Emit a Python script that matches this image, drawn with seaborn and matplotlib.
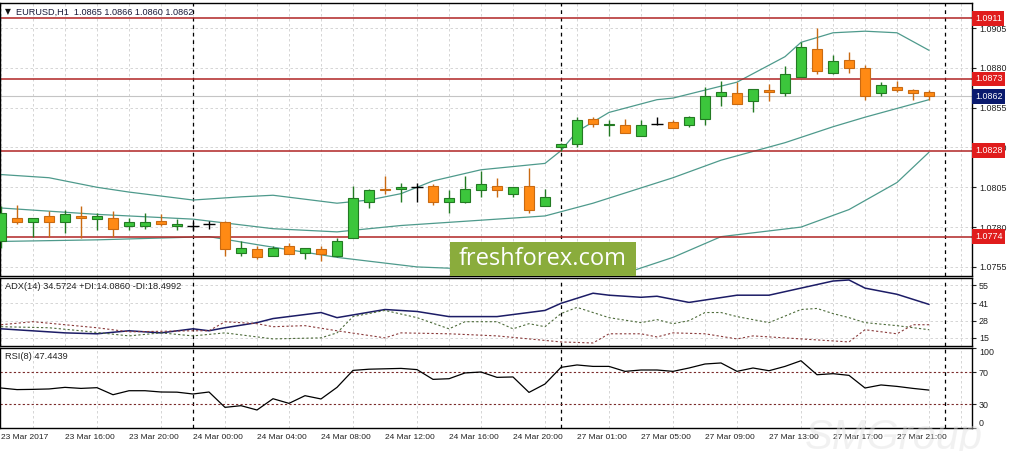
import numpy as np
import pandas as pd
import seaborn as sns
import matplotlib.pyplot as plt
from matplotlib.patches import Rectangle

# EURUSD H1, 23 Mar 12:00 .. 27 Mar 23:00 (bar index = position on chart)
opens = [1.0771, 1.0786, 1.0783, 1.0787, 1.0783, 1.0787, 1.0785, 1.0786, 1.0781, 1.0781,
         1.0784, 1.0781, 1.0781, 1.0782, 1.0783, 1.0764, 1.0766, 1.0762, 1.0768, 1.0764,
         1.0766, 1.0762, 1.0773, 1.0796, 1.0804, 1.0804, 1.0805, 1.0806, 1.0796, 1.0796,
         1.0803, 1.0806, 1.0801, 1.0806, 1.0793, 1.0830, 1.0832, 1.0848, 1.0844, 1.0844,
         1.0837, 1.0845, 1.0846, 1.0844, 1.0848, 1.0862, 1.0864, 1.0859, 1.0866, 1.0864,
         1.0874, 1.0892, 1.0877, 1.0885, 1.0880, 1.0864, 1.0868, 1.0866, 1.0865]
highs = [1.0793, 1.0794, 1.0786, 1.0790, 1.0791, 1.0793, 1.0789, 1.0790, 1.0786, 1.0789,
         1.0788, 1.0785, 1.0783, 1.0784, 1.0784, 1.0771, 1.0768, 1.0768, 1.0770, 1.0767,
         1.0768, 1.0773, 1.0806, 1.0804, 1.0812, 1.0808, 1.0808, 1.0807, 1.0803, 1.0812,
         1.0815, 1.0811, 1.0805, 1.0817, 1.0804, 1.0833, 1.0849, 1.0849, 1.0847, 1.0848,
         1.0847, 1.0849, 1.0847, 1.0850, 1.0868, 1.0872, 1.0871, 1.0867, 1.0870, 1.0881,
         1.0896, 1.0905, 1.0888, 1.0890, 1.0882, 1.0871, 1.0872, 1.0867, 1.0866]
lows = [1.0767, 1.0782, 1.0774, 1.0774, 1.0776, 1.0773, 1.0778, 1.0774, 1.0778, 1.0779,
        1.0781, 1.0778, 1.0778, 1.0779, 1.0762, 1.0762, 1.0760, 1.0762, 1.0763, 1.0760,
        1.0759, 1.0761, 1.0773, 1.0792, 1.0801, 1.0796, 1.0796, 1.0794, 1.0789, 1.0795,
        1.0799, 1.0799, 1.0799, 1.0789, 1.0793, 1.0828, 1.0830, 1.0843, 1.0837, 1.0839,
        1.0837, 1.0844, 1.0842, 1.0843, 1.0844, 1.0856, 1.0857, 1.0852, 1.0859, 1.0862,
        1.0874, 1.0876, 1.0876, 1.0877, 1.0860, 1.0862, 1.0865, 1.0860, 1.0860]
closes = [1.0789, 1.0783, 1.0786, 1.0783, 1.0788, 1.0786, 1.0787, 1.0779, 1.0783, 1.0783,
          1.0782, 1.0782, 1.0781, 1.0782, 1.0766, 1.0767, 1.0761, 1.0767, 1.0763, 1.0767,
          1.0763, 1.0771, 1.0798, 1.0803, 1.0803, 1.0805, 1.0805, 1.0796, 1.0798, 1.0804,
          1.0807, 1.0803, 1.0805, 1.0791, 1.0799, 1.0832, 1.0847, 1.0845, 1.0845, 1.0839,
          1.0844, 1.0845, 1.0842, 1.0849, 1.0862, 1.0865, 1.0857, 1.0867, 1.0865, 1.0876,
          1.0893, 1.0878, 1.0884, 1.0880, 1.0862, 1.0869, 1.0866, 1.0864, 1.0862]

# bollinger bands (read at a few bars)
bb_up_bars = [0, 3, 6, 8, 12, 15, 17, 21, 23, 25, 27, 30, 34, 35, 36, 38, 41, 42, 46, 49, 50, 52, 54, 56, 58]
bb_up = [1.0813, 1.0811, 1.0805, 1.0802, 1.0797, 1.0799, 1.0800, 1.0795, 1.0797, 1.0801, 1.0809, 1.0816, 1.0820,
         1.0828, 1.0840, 1.0852, 1.0860, 1.0861, 1.0871, 1.0887, 1.0896, 1.0902, 1.0903, 1.0902, 1.0891]
bb_mid_bars = [0, 6, 12, 17, 21, 25, 34, 37, 42, 45, 49, 52, 54, 58]
bb_mid = [1.0792, 1.0788, 1.0785, 1.0779, 1.0777, 1.0781, 1.0787, 1.0795, 1.0811, 1.0822, 1.0833, 1.0843, 1.0849, 1.0860]
bb_low_bars = [0, 6, 13, 16, 21, 26, 31, 39, 42, 45, 50, 53, 56, 58]
bb_low = [1.0771, 1.0772, 1.0774, 1.0769, 1.0761, 1.0755, 1.0753, 1.0751, 1.0761, 1.0774, 1.0780, 1.0791, 1.0808, 1.0827]

red_levels = [1.0911, 1.0873, 1.0828, 1.0774]
bid = 1.0862
price_ticks = [1.0755, 1.0780, 1.0805, 1.0830, 1.0855, 1.0880, 1.0905]

# ADX(14)
adx_bars = [0, 4, 6, 8, 10, 12, 13, 14, 16, 17, 20, 21, 24, 26, 28, 31, 34, 35, 37, 38, 40, 41, 43, 46, 48, 52, 53, 54, 56, 58]
adx = [21.7, 18.6, 17.9, 20.2, 18.6, 21.7, 20.2, 22.5, 26.4, 29.5, 34.1, 30.2, 36.4, 34.9, 31.0, 31.0, 35.7, 41.1,
       48.8, 47.3, 45.7, 46.5, 41.8, 47.3, 47.3, 58.1, 58.9, 52.7, 48.0, 40.3]
pdi_bars = [0, 3, 5, 8, 10, 12, 14, 17, 20, 21, 22, 24, 26, 28, 29, 31, 32, 33, 34, 35,
            36, 37, 38, 40, 41, 42, 43, 44, 45, 46, 48, 50, 51, 52, 53, 54, 56, 58]
pdi = [23.3, 22.5, 20.2, 16.3, 18.6, 16.3, 18.6, 14.0, 14.8, 18.6, 31.0, 35.7, 30.2, 21.7, 27.1, 27.1, 21.7, 25.6, 23.3, 33.3,
       38.0, 34.1, 30.2, 26.4, 28.7, 25.6, 27.9, 34.1, 34.1, 31.0, 26.4, 36.4, 37.2, 33.3, 30.2, 26.4, 24.1, 21.0]
mdi_bars = [0, 2, 6, 8, 12, 13, 14, 16, 17, 19, 21, 24, 25, 28, 31, 33, 35, 37, 38, 40,
            41, 42, 44, 46, 47, 50, 53, 54, 56, 57, 58]
mdi = [24.8, 27.1, 22.5, 19.4, 20.2, 20.2, 27.1, 25.6, 23.3, 24.1, 20.2, 14.8, 18.6, 17.9, 16.3, 14.0, 11.7, 10.9, 17.9, 17.9,
       15.5, 18.6, 17.9, 14.0, 16.3, 14.0, 11.7, 21.0, 17.9, 24.8, 24.8]
adx_ticks = [15, 28, 41, 55]

# RSI(8)
rsi = [50.0, 48.0, 48.3, 48.8, 50.8, 49.5, 50.4, 41.6, 46.6, 46.6,
       45.0, 44.8, 42.5, 45.0, 25.8, 27.9, 22.5, 36.6, 30.8, 40.4,
       36.3, 50.8, 72.0, 73.5, 74.0, 74.5, 73.0, 60.8, 61.6, 68.8,
       70.0, 63.3, 63.8, 44.5, 55.0, 75.8, 78.8, 77.0, 77.0, 70.8,
       72.5, 72.5, 70.8, 75.0, 80.0, 81.3, 70.8, 75.0, 71.6, 77.0,
       84.1, 66.6, 67.9, 65.8, 50.0, 53.8, 52.0, 49.5, 47.4]

time_bars = [0, 4, 8, 12, 16, 20, 24, 28, 32, 36, 40, 44, 48, 52, 56]
time_labels = ["23 Mar 2017", "23 Mar 16:00", "23 Mar 20:00", "24 Mar 00:00", "24 Mar 04:00",
               "24 Mar 08:00", "24 Mar 12:00", "24 Mar 16:00", "24 Mar 20:00", "27 Mar 01:00",
               "27 Mar 05:00", "27 Mar 09:00", "27 Mar 13:00", "27 Mar 17:00", "27 Mar 21:00"]
day_breaks = [12, 35, 59]

sns.set_style("white")
plt.rcParams["font.family"] = ["Liberation Sans", "DejaVu Sans"]

W, H = 1013, 451
fig = plt.figure(figsize=(W / 100, H / 100), dpi=100)


def panel(top, bottom):
    return fig.add_axes([0.0, 1 - bottom / H, 972 / W, (bottom - top) / H])


ax = panel(3, 276)
ax_adx = panel(278, 346)
ax_rsi = panel(348, 428)

grid_kw = dict(color="#cfcfcf", ls=(0, (3, 3)), lw=0.6)
for a in (ax, ax_adx, ax_rsi):
    a.set_xlim(-0.0625, 60.6875)
    a.set_xticks(np.arange(0, 61, 2), minor=True)
    a.tick_params(which="minor", length=0)
    a.grid(True, which="minor", axis="x", **grid_kw)
    a.grid(True, which="major", axis="y", **grid_kw)
    a.set_axisbelow(True)
    a.yaxis.tick_right()
    a.tick_params(axis="y", which="major", direction="out", length=3, pad=2,
                  labelsize=6.4, colors="#222222")
    for s in a.spines.values():
        s.set_color("black")
        s.set_linewidth(1)
    for b in day_breaks:
        a.axvline(b, color="black", ls=(0, (3, 3)), lw=0.9, zorder=1)

# candles
df = pd.DataFrame({"open": opens, "high": highs, "low": lows, "close": closes})
df["bar"] = np.arange(len(df))
up = df[df.close > df.open]
dn = df[df.close < df.open]
flat = df[df.close == df.open]

ax.vlines(up.bar, up.low, up.high, color="#237a23", lw=1, zorder=3)
ax.vlines(dn.bar, dn.low, dn.high, color="#c96a12", lw=1, zorder=3)
ax.vlines(flat.bar, flat.low, flat.high, color="black", lw=1, zorder=3)
ax.bar(up.bar, up.close - up.open, bottom=up.open, width=0.62,
       color="#3cc63c", edgecolor="#237a23", lw=0.8, zorder=4)
ax.bar(dn.bar, dn.open - dn.close, bottom=dn.close, width=0.62,
       color="#ff8a14", edgecolor="#c96a12", lw=0.8, zorder=4)
ax.hlines(flat.open, flat.bar - 0.35, flat.bar + 0.35, color="black", lw=1, zorder=4)

bb_color = "#4e9a8c"
sns.lineplot(x=bb_up_bars, y=bb_up, ax=ax, color=bb_color, lw=0.9, zorder=2)
sns.lineplot(x=bb_mid_bars, y=bb_mid, ax=ax, color=bb_color, lw=0.9, zorder=2)
sns.lineplot(x=bb_low_bars, y=bb_low, ax=ax, color=bb_color, lw=0.9, zorder=2)

ax.axhline(bid, color="#c4c4c4", lw=0.8, zorder=1.5)
for lvl in red_levels:
    ax.axhline(lvl, color="#b02424", lw=1.1, zorder=2)

ax.set_ylim(1.07493, 1.09207)
ax.set_yticks(price_ticks)
ax.set_yticklabels([f"{p:.4f}" for p in price_ticks])
ax.set_xticks([])

ytr = ax.get_yaxis_transform()
for lvl in red_levels:
    ax.text(1.003, lvl, f"{lvl:.4f}", transform=ytr, ha="left", va="center", fontsize=6.4,
            color="white", bbox=dict(boxstyle="square,pad=0.3", fc="#e01c1c", ec="none"), zorder=6)
ax.text(1.003, bid, f"{bid:.4f}", transform=ytr, ha="left", va="center", fontsize=6.4,
        color="white", bbox=dict(boxstyle="square,pad=0.3", fc="#0a1a6e", ec="none"), zorder=6)

# ADX panel
sns.lineplot(x=adx_bars, y=adx, ax=ax_adx, color="#1c1c66", lw=1.1, zorder=3)
sns.lineplot(x=pdi_bars, y=pdi, ax=ax_adx, color="#4d6b3a", lw=0.8, linestyle=(0, (2, 2)), zorder=3)
sns.lineplot(x=mdi_bars, y=mdi, ax=ax_adx, color="#8a3a3a", lw=0.8, linestyle=(0, (2, 2)), zorder=3)
ax_adx.set_ylim(8.6, 60.4)
ax_adx.set_yticks(adx_ticks)
ax_adx.set_xticks([])
ax_adx.text(0.005, 0.88, "ADX(14) 34.5724 +DI:14.0860 -DI:18.4992", transform=ax_adx.transAxes,
            fontsize=6.7, color="#222222", va="center")

# RSI panel
sns.lineplot(x=df.bar, y=rsi, ax=ax_rsi, color="black", lw=0.9, zorder=3)
for lvl in (70, 30):
    ax_rsi.axhline(lvl, color="#7a2a2a", ls=(0, (2, 2)), lw=0.8, zorder=2)
ax_rsi.set_ylim(0, 100)
ax_rsi.set_yticks([0, 30, 70, 100])
ax_rsi.grid(False, which="major", axis="y")
labs = ax_rsi.get_yticklabels()
labs[0].set_va("bottom")
labs[-1].set_va("top")
ax_rsi.text(0.005, 0.89, "RSI(8) 47.4439", transform=ax_rsi.transAxes,
            fontsize=6.7, color="#222222", va="center")
ax_rsi.set_xticks(time_bars)
ax_rsi.set_xticklabels(time_labels, ha="left", fontsize=6, color="#222222")
ax_rsi.tick_params(axis="x", which="major", direction="out", length=3, pad=1.5)
ax_rsi.set_xlabel("")
ax_rsi.set_ylabel("")
ax_adx.set_ylabel("")
ax.set_ylabel("")

# header
fig.text(5 / W, 1 - 12 / H, "▼", fontsize=5.5, va="center", color="#111111", family="DejaVu Sans")
fig.text(16 / W, 1 - 12 / H, "EURUSD,H1  1.0865 1.0866 1.0860 1.0862", fontsize=6.6,
         va="center", color="#1b1b3a")

# watermarks
fig.patches.append(Rectangle((450 / W, 1 - 276 / H), 186 / W, 34 / H, transform=fig.transFigure,
                             fc="#8aac3c", ec="none", zorder=5))
fig.text(543 / W, 1 - 259 / H, "freshforex.com", fontsize=17, color="white", ha="center",
         va="center", family="Open Sans", zorder=6)
fig.text(805 / W, 1 - 449 / H, "SMGroup", fontsize=30, style="italic", color="#e2e2e2",
         alpha=0.45, ha="left", va="baseline", zorder=6)

fig.savefig("out.png", dpi=100, facecolor="white")
